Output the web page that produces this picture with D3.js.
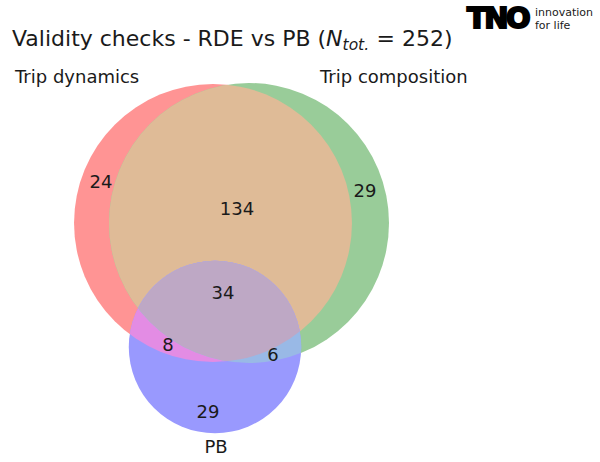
<!DOCTYPE html>
<html lang="en">
<head>
    <meta charset="UTF-8">
    <title>Validity checks - RDE vs PB</title>
    <script src="https://d3js.org/d3.v7.min.js"></script>
    <style>
        body {
            margin: 0;
            background: #ffffff;
        }
        svg text {
            font-family: "DejaVu Sans", sans-serif;
            fill: #1a1a1a;
        }
    </style>
</head>
<body>
    <div id="chart"></div>

    <script>
        // Dati: insiemi e conteggi delle regioni
        const setNames = ["Trip dynamics", "Trip composition", "PB"];
        const setKeys = ["A", "B", "C"];
        // regioni: A solo, B solo, AB, C solo, AC, BC, ABC
        const regionKeys = ["A", "B", "AB", "C", "AC", "BC", "ABC"];
        const regionCounts = [24, 29, 134, 29, 8, 6, 34];
        const nTotal = 252;

        const width = 600;
        const height = 462;

        // totale per insieme
        const setTotals = setKeys.map(k =>
            d3.sum(regionKeys.map((r, i) => r.includes(k) ? regionCounts[i] : 0)));

        // raggio proporzionale alla radice dell'area
        const rScale = d3.scaleSqrt()
            .domain([0, d3.max(setTotals)])
            .range([0, 140]);

        // layout dei centri (coordinate del diagramma)
        const centers = { A: [213, 223], B: [249, 223], C: [215, 347] };
        const labelPos = {
            A: [101, 181], B: [365, 190], AB: [237, 208], C: [208, 411],
            AC: [168, 344], BC: [273, 354], ABC: [223, 292]
        };
        const regionColors = {
            A: "#ff9494", B: "#99cc99", AB: "#dfbb97", C: "#9999fe",
            AC: "#e38ce4", BC: "#99b9e6", ABC: "#bea8c5"
        };

        const svg = d3.select("#chart")
            .append("svg")
            .attr("width", width)
            .attr("height", height);

        const defs = svg.append("defs");
        setKeys.forEach((k, i) => {
            defs.append("clipPath")
                .attr("id", "clip" + k)
                .append("circle")
                .attr("cx", centers[k][0])
                .attr("cy", centers[k][1])
                .attr("r", rScale(setTotals[i]));
        });

        const circ = (g, k, fill) => g.append("circle")
            .attr("cx", centers[k][0])
            .attr("cy", centers[k][1])
            .attr("r", rScale(setTotals[setKeys.indexOf(k)]))
            .attr("fill", fill);

        // Regioni disegnate a strati
        circ(svg, "A", regionColors.A);
        circ(svg, "B", regionColors.B);
        circ(svg.append("g").attr("clip-path", "url(#clipA)"), "B", regionColors.AB);
        circ(svg, "C", regionColors.C);
        circ(svg.append("g").attr("clip-path", "url(#clipA)"), "C", regionColors.AC);
        circ(svg.append("g").attr("clip-path", "url(#clipB)"), "C", regionColors.BC);
        circ(svg.append("g").attr("clip-path", "url(#clipA)")
            .append("g").attr("clip-path", "url(#clipB)"), "C", regionColors.ABC);

        // Numeri delle regioni
        svg.selectAll(".count")
            .data(regionKeys)
            .enter()
            .append("text")
            .attr("class", "count")
            .attr("x", d => labelPos[d][0])
            .attr("y", d => labelPos[d][1])
            .attr("text-anchor", "middle")
            .attr("dominant-baseline", "central")
            .attr("font-size", "18px")
            .text((d, i) => regionCounts[i]);

        // Etichette degli insiemi
        const setLabelPos = [[15, 83, "start"], [320, 83, "start"], [216, 453, "middle"]];
        svg.selectAll(".setlabel")
            .data(setNames)
            .enter()
            .append("text")
            .attr("class", "setlabel")
            .attr("x", (d, i) => setLabelPos[i][0])
            .attr("y", (d, i) => setLabelPos[i][1])
            .attr("text-anchor", (d, i) => setLabelPos[i][2])
            .attr("font-size", "18px")
            .text(d => d);

        // Titolo
        const title = svg.append("text")
            .attr("x", 12)
            .attr("y", 46)
            .attr("font-size", "22px");
        title.append("tspan").text("Validity checks - RDE vs PB (");
        title.append("tspan").attr("font-style", "italic").text("N");
        title.append("tspan").attr("font-style", "italic").attr("font-size", "15.5px")
            .attr("dy", 4).text("tot.");
        title.append("tspan").attr("dy", -4).text("\u2004=\u2004" + nTotal + ")");

        // Logo TNO
        svg.append("text")
            .attr("x", 467)
            .attr("y", 28)
            .attr("font-family", "'Liberation Sans', Arial, sans-serif")
            .attr("font-weight", 900)
            .attr("font-size", "29px")
            .attr("letter-spacing", "-2.5px")
            .attr("stroke", "#000")
            .attr("stroke-width", 2)
            .style("fill", "#000")
            .text("TNO");
        svg.append("text")
            .attr("x", 535)
            .attr("y", 16)
            .attr("font-family", "'Liberation Sans', Arial, sans-serif")
            .attr("font-size", "11px")
            .text("innovation");
        svg.append("text")
            .attr("x", 535)
            .attr("y", 29)
            .attr("font-family", "'Liberation Sans', Arial, sans-serif")
            .attr("font-size", "11px")
            .text("for life");
    </script>
</body>
</html>
